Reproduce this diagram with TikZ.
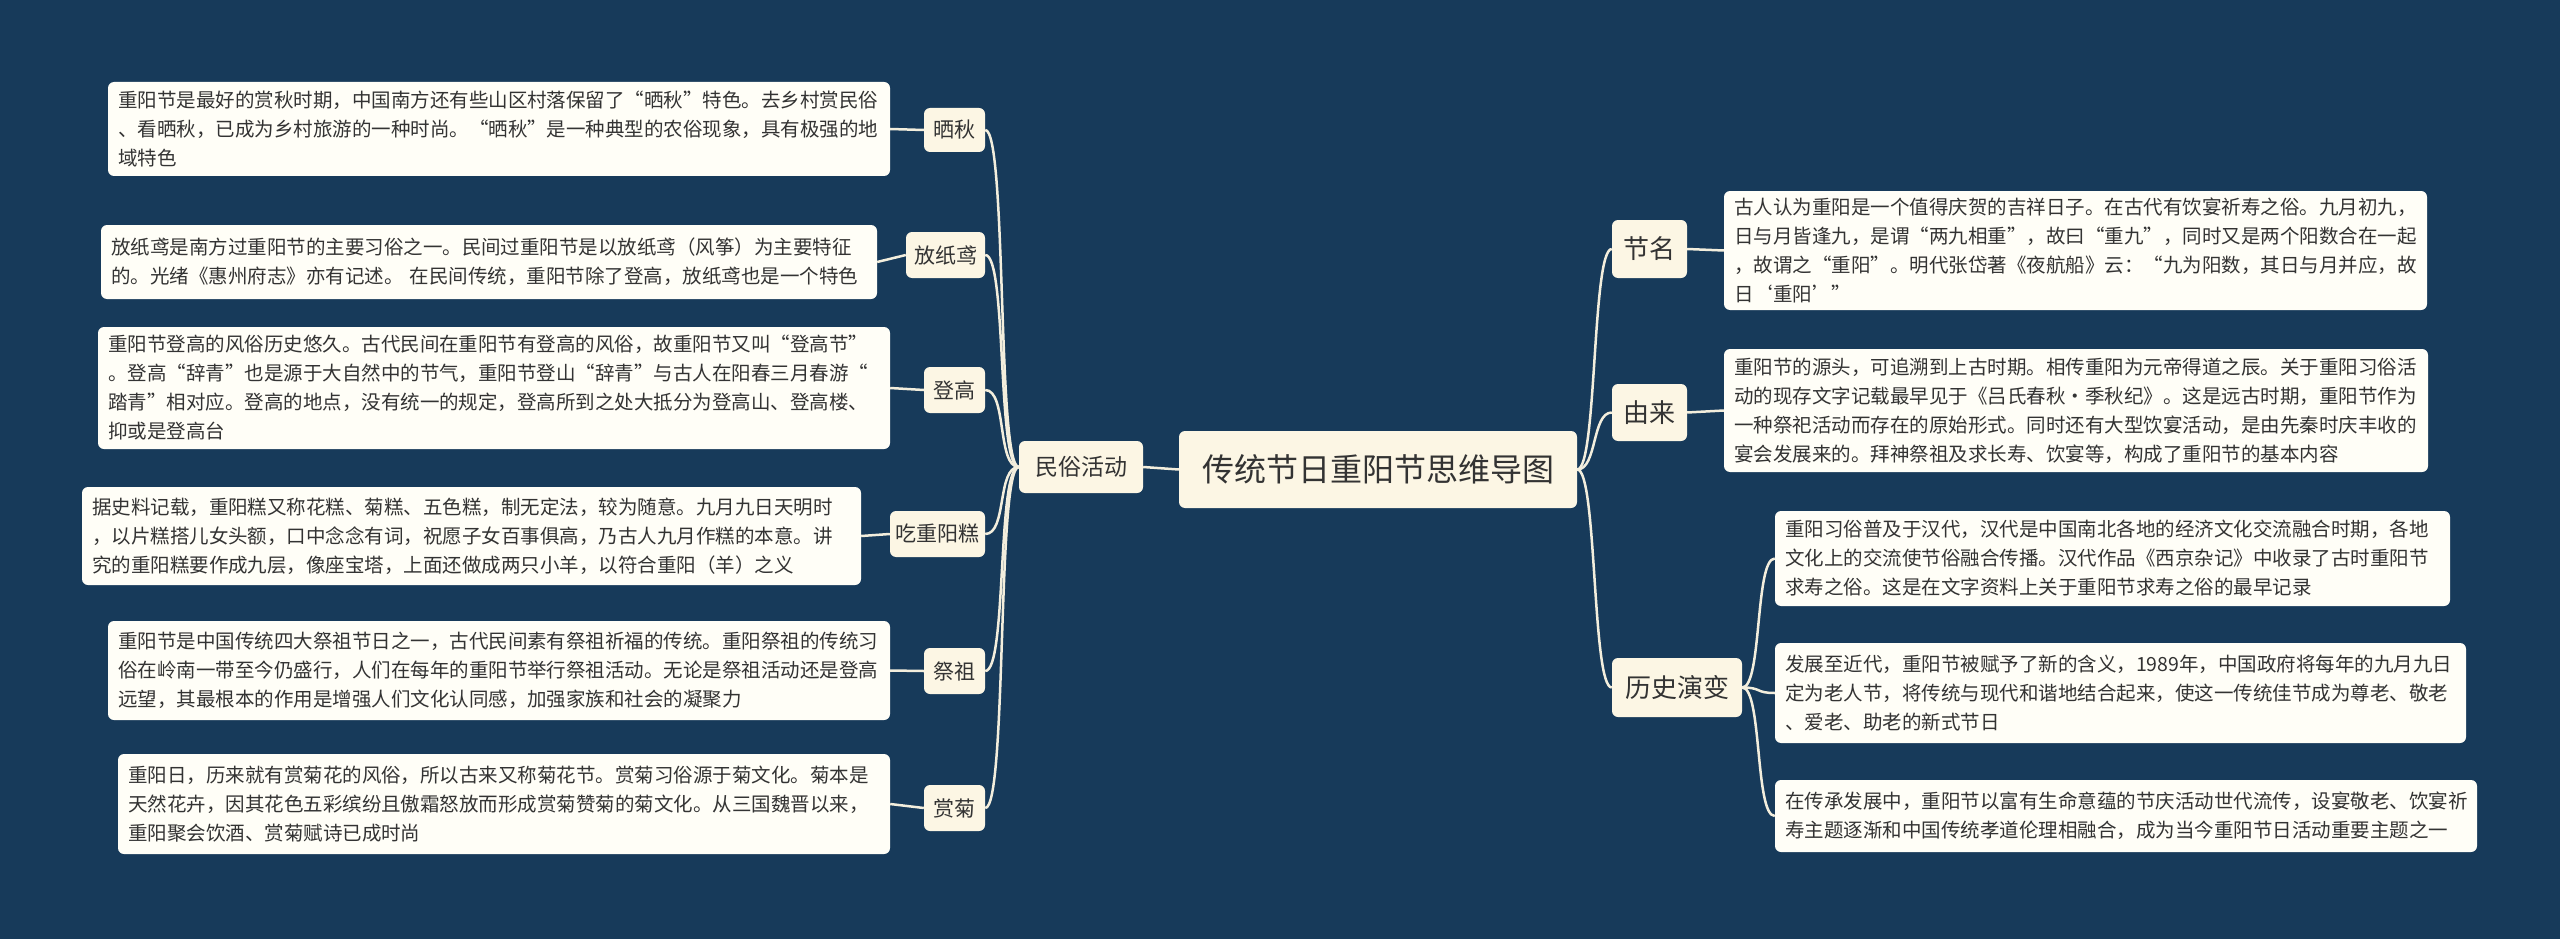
\documentclass[tikz,border=0pt]{standalone}
\usepackage{fontspec}
\setmainfont{Noto Sans CJK SC}
\definecolor{bg}{HTML}{173A5A}
\definecolor{leaf}{HTML}{FFFEF7}
\definecolor{subf}{HTML}{FCF6E4}
\definecolor{txt}{HTML}{333333}
\definecolor{ln}{HTML}{F3EEDD}
\begin{document}
\begin{tikzpicture}[x=1pt,y=-1pt,
  leafbox/.style n args={2}{draw=none,fill=leaf,rounded corners=6pt,text=txt,align=left,inner xsep=10pt,inner ysep=0pt,text width=#1pt-20pt,minimum height=#2pt,font=\fontsize{19.5}{29}\selectfont},
  subbox/.style n args={2}{draw=none,fill=subf,rounded corners=6pt,text=txt,inner sep=0pt,minimum width=#1pt,minimum height=#2pt,font=\fontsize{21}{25}\selectfont},
  rsub/.style n args={2}{draw=none,fill=subf,rounded corners=6pt,text=txt,inner sep=0pt,minimum width=#1pt,minimum height=#2pt,font=\fontsize{26}{30}\selectfont},
  conn/.style={draw=ln,line width=2.5pt}]
\fill[bg] (0,0) rectangle (2560,939);
\useasboundingbox (0,0) rectangle (2560,939);

\node[subbox={398}{77},font=\fontsize{32}{36}\selectfont] (c) at (1378,469.5) {传统节日重阳节思维导图};
\node[subbox={124}{52},font=\fontsize{23}{27}\selectfont] (m) at (1081,467) {民俗活动};

\node[subbox={61}{44}] (s1) at (954.5,130) {晒秋};
\node[subbox={79}{46}] (s2) at (945.5,255) {放纸鸢};
\node[subbox={61}{46}] (s3) at (954.5,390) {登高};
\node[subbox={95}{46}] (s4) at (937.5,534) {吃重阳糕};
\node[subbox={61}{46}] (s5) at (954.5,671) {祭祖};
\node[subbox={61}{46}] (s6) at (954.5,808) {赏菊};

\node[leafbox={782}{94}] (l1) at (499,129) {重阳节是最好的赏秋时期，中国南方还有些山区村落保留了“晒秋”特色。去乡村赏民俗\\、看晒秋，已成为乡村旅游的一种时尚。“晒秋”是一种典型的农俗现象，具有极强的地\\域特色};
\node[leafbox={776}{74}] (l2) at (489,262) {放纸鸢是南方过重阳节的主要习俗之一。民间过重阳节是以放纸鸢（风筝）为主要特征\\的。光绪《惠州府志》亦有记述。 在民间传统，重阳节除了登高，放纸鸢也是一个特色};
\node[leafbox={792}{122}] (l3) at (494,388) {重阳节登高的风俗历史悠久。古代民间在重阳节有登高的风俗，故重阳节又叫“登高节”\\。登高“辞青”也是源于大自然中的节气，重阳节登山“辞青”与古人在阳春三月春游“\\踏青”相对应。登高的地点，没有统一的规定，登高所到之处大抵分为登高山、登高楼、\\抑或是登高台};
\node[leafbox={779}{98}] (l4) at (471.5,536) {据史料记载，重阳糕又称花糕、菊糕、五色糕，制无定法，较为随意。九月九日天明时\\，以片糕搭儿女头额，口中念念有词，祝愿子女百事俱高，乃古人九月作糕的本意。讲\\究的重阳糕要作成九层，像座宝塔，上面还做成两只小羊，以符合重阳（羊）之义};
\node[leafbox={782}{99}] (l5) at (499,670.5) {重阳节是中国传统四大祭祖节日之一，古代民间素有祭祖祈福的传统。重阳祭祖的传统习\\俗在岭南一带至今仍盛行，人们在每年的重阳节举行祭祖活动。无论是祭祖活动还是登高\\远望，其最根本的作用是增强人们文化认同感，加强家族和社会的凝聚力};
\node[leafbox={772}{100}] (l6) at (504,804) {重阳日，历来就有赏菊花的风俗，所以古来又称菊花节。赏菊习俗源于菊文化。菊本是\\天然花卉，因其花色五彩缤纷且傲霜怒放而形成赏菊赞菊的菊文化。从三国魏晋以来，\\重阳聚会饮酒、赏菊赋诗已成时尚};

\node[rsub={75}{58}] (r1) at (1649.5,249) {节名};
\node[rsub={75}{57}] (r2) at (1649.5,412.5) {由来};
\node[rsub={130}{59}] (r3) at (1677,687.5) {历史演变};

\node[leafbox={703}{119}] (q1) at (2075.5,250.5) {古人认为重阳是一个值得庆贺的吉祥日子。在古代有饮宴祈寿之俗。九月初九，\\日与月皆逢九，是谓“两九相重”，故曰“重九”，同时又是两个阳数合在一起\\，故谓之“重阳”。明代张岱著《夜航船》云：“九为阳数，其日与月并应，故\\日‘重阳’”};
\node[leafbox={704}{123}] (q2) at (2076,410.5) {重阳节的源头，可追溯到上古时期。相传重阳为元帝得道之辰。关于重阳习俗活\\动的现存文字记载最早见于《吕氏春秋·季秋纪》。这是远古时期，重阳节作为\\一种祭祀活动而存在的原始形式。同时还有大型饮宴活动，是由先秦时庆丰收的\\宴会发展来的。拜神祭祖及求长寿、饮宴等，构成了重阳节的基本内容};
\node[leafbox={675}{95}] (h1) at (2112.5,558.5) {重阳习俗普及于汉代，汉代是中国南北各地的经济文化交流融合时期，各地\\文化上的交流使节俗融合传播。汉代作品《西京杂记》中收录了古时重阳节\\求寿之俗。这是在文字资料上关于重阳节求寿之俗的最早记录};
\node[leafbox={691}{100}] (h2) at (2120.5,693) {发展至近代，重阳节被赋予了新的含义，1989年，中国政府将每年的九月九日\\定为老人节，将传统与现代和谐地结合起来，使这一传统佳节成为尊老、敬老\\、爱老、助老的新式节日};
\node[leafbox={702}{72}] (h3) at (2126,816) {在传承发展中，重阳节以富有生命意蕴的节庆活动世代流传，设宴敬老、饮宴祈\\寿主题逐渐和中国传统孝道伦理相融合，成为当今重阳节日活动重要主题之一};

\draw[conn] (c.west) -- (m.east);
\foreach \s in {s1,s2,s3,s4,s5,s6}{
  \draw[conn] (m.west) .. controls ([xshift=-22pt]m.west) and ([xshift=22pt]\s.east) .. (\s.east);
}
\draw[conn] (l1.east) -- (s1.west);
\draw[conn] (l2.east) -- (s2.west);
\draw[conn] (l3.east) -- (s3.west);
\draw[conn] (l4.east) -- (s4.west);
\draw[conn] (l5.east) -- (s5.west);
\draw[conn] (l6.east) -- (s6.west);
\foreach \r in {r1,r2,r3}{
  \draw[conn] (c.east) .. controls ([xshift=20pt]c.east) and ([xshift=-20pt]\r.west) .. (\r.west);
}
\draw[conn] (r1.east) -- (q1.west);
\draw[conn] (r2.east) -- (q2.west);
\foreach \h in {h1,h2,h3}{
  \draw[conn] (r3.east) .. controls ([xshift=20pt]r3.east) and ([xshift=-20pt]\h.west) .. (\h.west);
}
\end{tikzpicture}
\end{document}
